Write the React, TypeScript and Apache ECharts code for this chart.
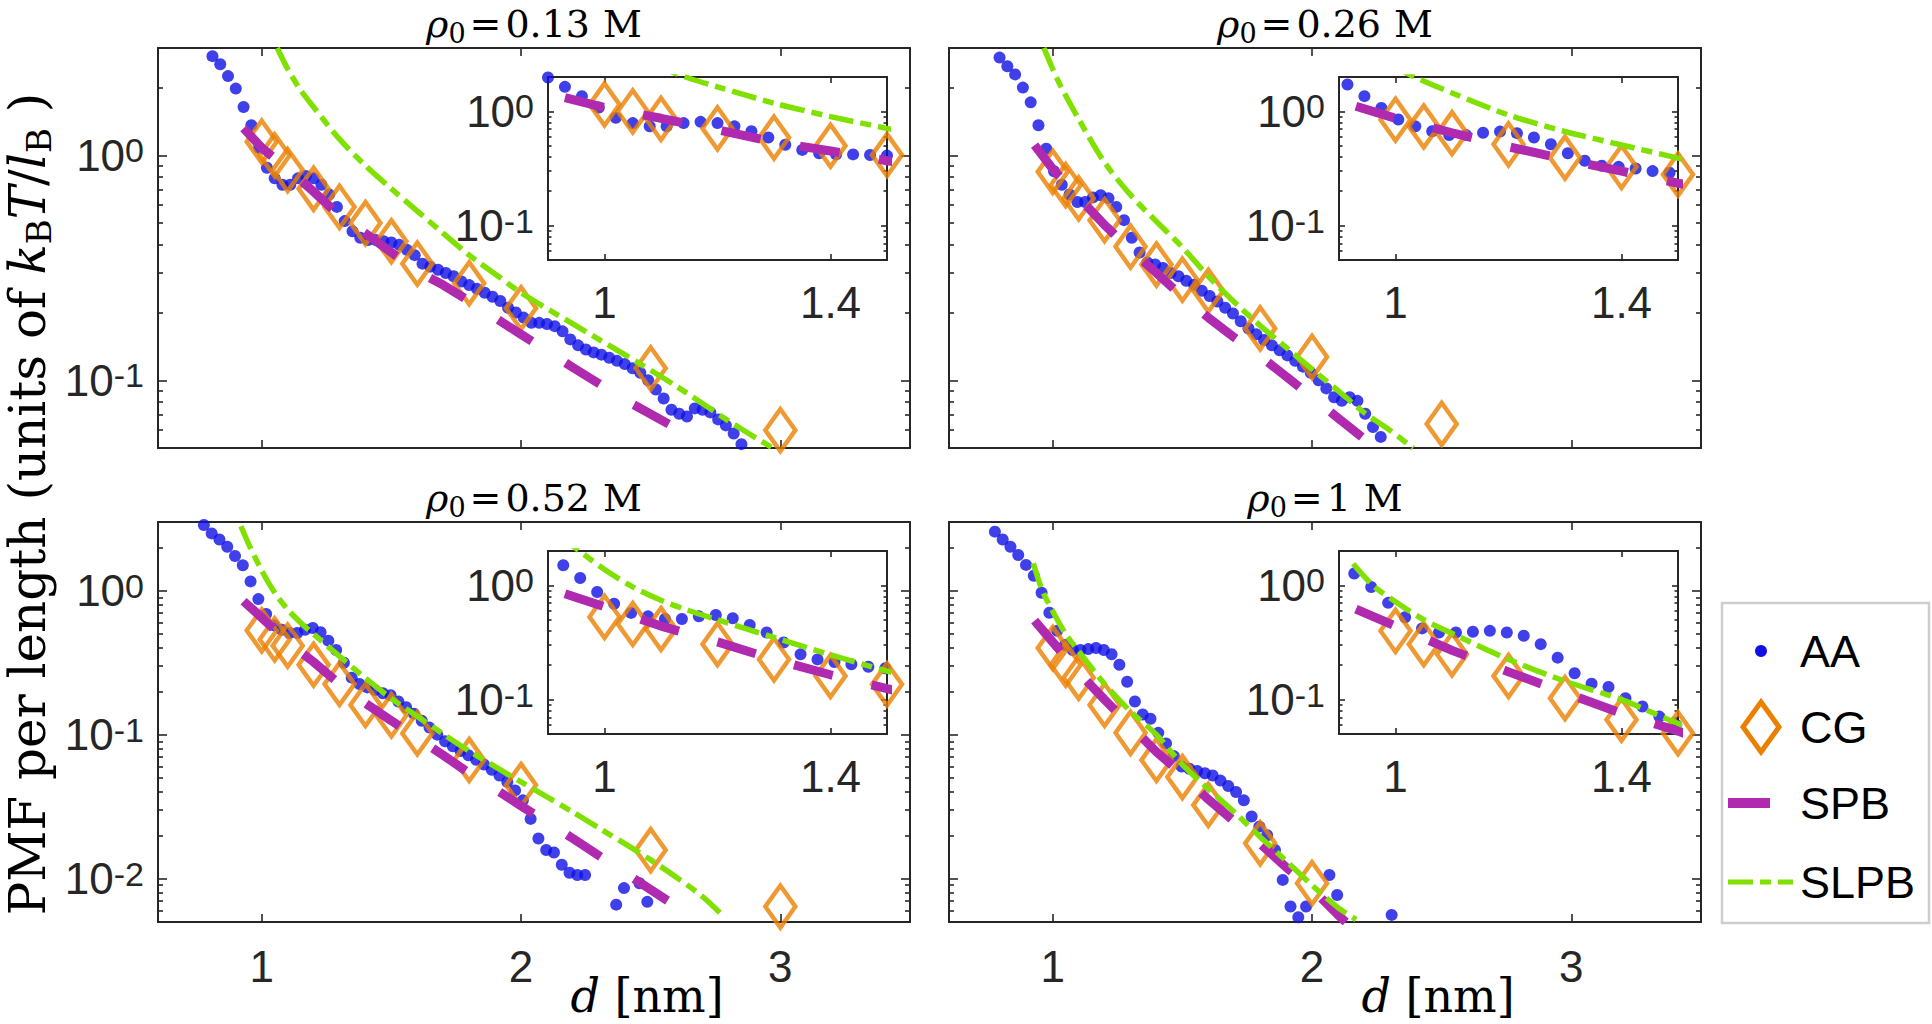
import React, { useEffect, useRef } from "react";
import * as echarts from "echarts";

// ---------------- data ----------------
// top-left, rho0 = 0.13 M
const tlAAx = [
  0.81, 0.84, 0.87, 0.9, 0.93, 0.96, 0.99, 1.02, 1.05, 1.08,
  1.11, 1.14, 1.17, 1.2, 1.23, 1.26, 1.29, 1.32, 1.35, 1.38,
  1.41, 1.44, 1.47, 1.5, 1.53, 1.56, 1.59, 1.62, 1.65, 1.68,
  1.71, 1.74, 1.77, 1.8, 1.83, 1.86, 1.89, 1.92, 1.95, 1.98,
  2.01, 2.04, 2.07, 2.1, 2.13, 2.16, 2.19, 2.22, 2.25, 2.28,
  2.31, 2.34, 2.37, 2.4, 2.43, 2.46, 2.49, 2.52, 2.55, 2.58,
  2.61, 2.64, 2.67, 2.7, 2.73, 2.76, 2.79, 2.82, 2.85, 2.88,
];
const tlAAy = [
  2.76, 2.54, 2.25, 1.98, 1.64, 1.36, 1.08, 0.88, 0.79, 0.74,
  0.74, 0.79, 0.81, 0.79, 0.74, 0.67, 0.59, 0.51, 0.46, 0.43,
  0.42, 0.42, 0.415, 0.41, 0.4, 0.38, 0.36, 0.33, 0.32, 0.31,
  0.3, 0.29, 0.275, 0.265, 0.255, 0.245, 0.235, 0.225, 0.21, 0.2,
  0.19, 0.18, 0.18, 0.178, 0.174, 0.165, 0.152, 0.143, 0.137, 0.133,
  0.13, 0.126, 0.122, 0.118, 0.113, 0.108, 0.1, 0.091, 0.083, 0.074,
  0.071, 0.069, 0.075, 0.074, 0.072, 0.067, 0.063, 0.058, 0.052, 0.047,
];
const tlCGx = [1.0, 1.05, 1.1, 1.2, 1.3, 1.4, 1.5, 1.6, 1.8, 2.0, 2.5, 3.0];
const tlCGy = [1.15, 1.0, 0.86, 0.71, 0.59, 0.5, 0.415, 0.33, 0.27, 0.209, 0.113, 0.06];
const tlSPBx = [0.93, 1.0, 1.1, 1.2, 1.3, 1.4, 1.5, 1.6, 1.7, 1.8, 2.0, 2.2, 2.4, 2.6, 2.66];
const tlSPBy = [1.32, 1.08, 0.87, 0.69, 0.54, 0.45, 0.37, 0.305, 0.265, 0.225, 0.16, 0.114, 0.082, 0.061, 0.056];
const tlSLPBx = [1.06, 1.1, 1.15, 1.2, 1.3, 1.4, 1.5, 1.6, 1.7, 1.8, 1.9, 2.0, 2.2, 2.4, 2.6, 2.8, 2.97];
const tlSLPBy = [3.0, 2.42, 1.95, 1.64, 1.18, 0.9, 0.71, 0.565, 0.45, 0.36, 0.297, 0.245, 0.178, 0.13, 0.094, 0.066, 0.05];

// top-right, rho0 = 0.26 M
const trAAx = [
  0.795, 0.825, 0.855, 0.885, 0.915, 0.945, 0.975, 1.005, 1.035, 1.065,
  1.095, 1.125, 1.155, 1.185, 1.215, 1.245, 1.275, 1.305, 1.335, 1.365,
  1.395, 1.425, 1.455, 1.485, 1.515, 1.545, 1.575, 1.605, 1.635, 1.665,
  1.695, 1.725, 1.755, 1.785, 1.815, 1.845, 1.875, 1.905, 1.935, 1.965,
  1.995, 2.025, 2.055, 2.085, 2.115, 2.145, 2.175, 2.205, 2.235, 2.265,
];
const trAAy = [
  2.72, 2.49, 2.29, 2.0, 1.72, 1.36, 1.07, 0.85, 0.74, 0.67,
  0.62, 0.62, 0.65, 0.665, 0.645, 0.59, 0.515, 0.43, 0.37, 0.334,
  0.327, 0.316, 0.3, 0.29, 0.277, 0.266, 0.25, 0.237, 0.224, 0.21,
  0.198, 0.183, 0.17, 0.16, 0.151, 0.143, 0.136, 0.129, 0.122, 0.115,
  0.108, 0.1, 0.092, 0.084, 0.081, 0.084, 0.081, 0.071, 0.062, 0.056,
];
const trCGx = [1.0, 1.05, 1.1, 1.2, 1.3, 1.4, 1.5, 1.6, 1.8, 2.0, 2.5];
const trCGy = [0.845, 0.737, 0.644, 0.515, 0.393, 0.327, 0.28, 0.25, 0.17, 0.127, 0.064];
const trSPBx = [0.93, 1.0, 1.1, 1.2, 1.3, 1.4, 1.5, 1.6, 1.7, 1.8, 1.9, 2.0, 2.1, 2.2, 2.25];
const trSPBy = [1.11, 0.87, 0.65, 0.49, 0.38, 0.3, 0.235, 0.19, 0.155, 0.128, 0.104, 0.084, 0.068, 0.055, 0.05];
const trSLPBx = [0.966, 1.0, 1.03, 1.1, 1.2, 1.3, 1.4, 1.5, 1.6, 1.7, 1.8, 1.9, 2.0, 2.1, 2.2, 2.3, 2.39];
const trSLPBy = [3.0, 2.42, 2.04, 1.45, 0.93, 0.667, 0.508, 0.39, 0.29, 0.223, 0.175, 0.14, 0.112, 0.09, 0.072, 0.06, 0.05];

// bottom-left, rho0 = 0.52 M
const blAAx = [
  0.777, 0.807, 0.837, 0.867, 0.897, 0.927, 0.957, 0.987, 1.017, 1.047,
  1.077, 1.107, 1.137, 1.167, 1.197, 1.227, 1.257, 1.287, 1.317, 1.347,
  1.377, 1.407, 1.437, 1.467, 1.497, 1.527, 1.557, 1.587, 1.617, 1.647,
  1.677, 1.707, 1.737, 1.767, 1.797, 1.827, 1.857, 1.887, 1.917, 1.947,
  1.977, 2.007, 2.037, 2.067, 2.097, 2.127, 2.157, 2.187, 2.217, 2.247,
  2.277, 2.307, 2.337, 2.367, 2.397, 2.427, 2.457, 2.487,
];
const blAAy = [
  2.86, 2.5, 2.27, 2.02, 1.74, 1.5, 1.16, 0.874, 0.69, 0.574,
  0.536, 0.508, 0.508, 0.536, 0.551, 0.515, 0.45, 0.387, 0.316, 0.249,
  0.225, 0.213, 0.204, 0.194, 0.188, 0.17, 0.155, 0.14, 0.125, 0.112,
  0.1, 0.09, 0.083, 0.077, 0.072, 0.067, 0.062, 0.057, 0.052, 0.047,
  0.041, 0.035, 0.026, 0.019, 0.0158, 0.0152, 0.0125, 0.011, 0.0106, 0.0106,
  null, null, null, 0.0066, 0.0086, null, 0.0093, 0.0069,
];
const blCGx = [1.0, 1.05, 1.1, 1.2, 1.3, 1.4, 1.5, 1.6, 1.8, 2.0, 2.5, 3.0];
const blCGy = [0.53, 0.459, 0.415, 0.306, 0.225, 0.161, 0.136, 0.102, 0.0667, 0.0447, 0.0158, 0.0064];
const blSPBx = [0.93, 1.0, 1.1, 1.2, 1.3, 1.4, 1.5, 1.6, 1.7, 1.8, 1.9, 2.0, 2.2, 2.4, 2.6, 2.66];
const blSPBy = [0.845, 0.65, 0.44, 0.32, 0.225, 0.165, 0.125, 0.095, 0.072, 0.054, 0.042, 0.032, 0.019, 0.011, 0.0064, 0.0054];
const blSLPBx = [0.92, 0.95, 1.0, 1.05, 1.1, 1.15, 1.2, 1.3, 1.4, 1.5, 1.6, 1.7, 1.8, 1.9, 2.0, 2.1, 2.2, 2.3, 2.4, 2.5, 2.6, 2.7, 2.78];
const blSLPBy = [2.8, 2.1, 1.38, 0.97, 0.74, 0.6, 0.5, 0.35, 0.247, 0.178, 0.134, 0.101, 0.077, 0.06, 0.047, 0.037, 0.029, 0.0225, 0.0175, 0.0135, 0.0102, 0.0075, 0.0055];

// bottom-right, rho0 = 1 M
const brAAx = [
  0.777, 0.807, 0.837, 0.867, 0.897, 0.927, 0.957, 0.987, 1.017, 1.047,
  1.077, 1.107, 1.137, 1.167, 1.197, 1.227, 1.257, 1.287, 1.317, 1.347,
  1.377, 1.407, 1.437, 1.467, 1.497, 1.527, 1.557, 1.587, 1.617, 1.647,
  1.677, 1.707, 1.737, 1.767, 1.797, 1.827, 1.857, 1.887, 1.917, 1.947,
  1.977, 2.007, 2.037, 2.067, 2.097, 2.127, 2.157, 2.187, 2.217, 2.247,
  2.277, 2.307,
];
const brAAy = [
  2.57, 2.27, 2.02, 1.77, 1.51, 1.27, 0.967, 0.703, 0.526, 0.42,
  0.387, 0.387, 0.393, 0.4, 0.387, 0.362, 0.306, 0.233, 0.17, 0.138,
  0.129, 0.103, 0.087, 0.071, 0.06, 0.058, 0.056, 0.054, 0.052, 0.048,
  0.044, 0.04, 0.035, 0.027, 0.023, 0.02, 0.0158, 0.0098, 0.0064, 0.0054,
  0.0064, null, null, 0.0106, 0.0077, null, null, null, null, null,
  null, 0.0056,
];
const brCGx = [1.0, 1.05, 1.1, 1.2, 1.3, 1.4, 1.5, 1.6, 1.8, 2.0];
const brCGy = [0.4, 0.306, 0.249, 0.161, 0.103, 0.0667, 0.0508, 0.0325, 0.0176, 0.0093];
const brSPBx = [0.93, 1.0, 1.1, 1.2, 1.3, 1.4, 1.5, 1.6, 1.7, 1.8, 1.9, 2.0, 2.1, 2.13];
const brSPBy = [0.62, 0.44, 0.27, 0.175, 0.115, 0.076, 0.053, 0.0355, 0.025, 0.0175, 0.012, 0.0085, 0.0056, 0.005];
const brSLPBx = [0.925, 0.96, 1.0, 1.05, 1.1, 1.2, 1.3, 1.4, 1.5, 1.6, 1.7, 1.8, 1.9, 2.0, 2.1, 2.17];
const brSLPBy = [1.55, 1.0, 0.72, 0.5, 0.38, 0.225, 0.145, 0.1, 0.062, 0.042, 0.029, 0.0195, 0.0133, 0.009, 0.0063, 0.0052];

// ---------------- axes / ticks ----------------
const seriesNames = ["AA", "CG", "SPB", "SLPB"];
const concentrations = ["0.13", "0.26", "0.52", "1"];
const mainXRange = [0.6, 3.5];
const insetXRange = [0.9, 1.5];
const mainXTicks = [1, 2, 3];
const insetXTicks = [1, 1.4];
const topYRange = [0.05, 3];
const botYRange = [0.005, 3];
const insetYRange = [0.05, 2];
const topYMajor = [0.1, 1];
const topYMinor = [0.05, 0.06, 0.07, 0.08, 0.09, 0.2, 0.3, 0.4, 0.5, 0.6, 0.7, 0.8, 0.9, 2, 3];
const botYMajor = [0.01, 0.1, 1];
const botYMinor = [
  0.005, 0.006, 0.007, 0.008, 0.009, 0.02, 0.03, 0.04, 0.05, 0.06, 0.07, 0.08, 0.09,
  0.2, 0.3, 0.4, 0.5, 0.6, 0.7, 0.8, 0.9, 2, 3,
];
const insetYMajor = [0.1, 1];
const insetYMinor = [0.05, 0.06, 0.07, 0.08, 0.09, 0.2, 0.3, 0.4, 0.5, 0.6, 0.7, 0.8, 0.9, 2];

// ---------------- style ----------------
const SANS = "'Liberation Sans', Arial, Helvetica, sans-serif";
const SERIF = "'DejaVu Serif', 'Liberation Serif', serif";
const AX = "#262626";
const BLUE = "#1010E6";
const ORANGE = "#EB8000";
const MAGENTA = "#B02AB0";
const GREEN = "#80E000";
const W = 1932;
const H = 1024;
const MAIN_W = 752;
const MAIN_H = 400;
const INSET_W = 339;
const INSET_H = 183;

type Pts = (number | null)[];

function zip(xs: number[], ys: Pts): number[][] {
  const out: number[][] = [];
  xs.forEach((x, i) => {
    const y = ys[i];
    if (y !== null && y !== undefined) out.push([x, y as number]);
  });
  return out;
}
function inRange(pts: number[][], xr: number[], yr: number[]) {
  const e = 1e-6;
  return pts.filter(
    ([x, y]) => x >= xr[0] - e && x <= xr[1] + e && y >= yr[0] * (1 - e) && y <= yr[1] * (1 + e)
  );
}
function powLabel(v: number) {
  const e = Math.round(Math.log10(v));
  return `{b|10}{s|${e}}`;
}
const supRich = {
  b: { fontSize: 44, fontFamily: SANS, color: AX, lineHeight: 44, padding: [15, 0, 0, 0], verticalAlign: "bottom" },
  s: { fontSize: 34, fontFamily: SANS, color: AX, lineHeight: 34, verticalAlign: "top" },
};

function buildOption() {
  const grid: any[] = [];
  const xAxis: any[] = [];
  const yAxis: any[] = [];
  const series: any[] = [];
  const elements: any[] = [];

  const addGrid = (left: number, top: number, w: number, h: number, cfg: any) => {
    const gi = grid.length;
    grid.push({ left, top, width: w, height: h, show: false, containLabel: false, outerBoundsMode: "none" });
    const lineOn = { show: true, onZero: false, lineStyle: { color: AX, width: 2 } };
    const tickStyle = { color: AX, width: 1.6 };
    const xi = xAxis.length;
    ["bottom", "top"].forEach((pos) => {
      xAxis.push({
        type: "value",
        gridIndex: gi,
        position: pos,
        min: cfg.xr[0],
        max: cfg.xr[1],
        axisLine: lineOn,
        axisTick: { show: true, inside: true, length: cfg.xLen, customValues: cfg.xTicks, lineStyle: tickStyle },
        axisLabel: {
          show: pos === "bottom" && cfg.xLabels,
          customValues: cfg.xTicks,
          margin: cfg.xMargin,
          color: AX,
          fontSize: 44,
          fontFamily: SANS,
          formatter: (v: number) => String(v),
        },
        splitLine: { show: false },
      });
    });
    const yi = yAxis.length;
    ["left", "right"].forEach((pos) => {
      yAxis.push({
        type: "log",
        logBase: 10,
        gridIndex: gi,
        position: pos,
        min: cfg.yr[0],
        max: cfg.yr[1],
        axisLine: lineOn,
        axisTick: { show: true, inside: true, length: cfg.majLen, customValues: cfg.yMajor, lineStyle: tickStyle },
        axisLabel: {
          show: pos === "left" && cfg.yLabels,
          customValues: cfg.yMajor,
          margin: 14,
          formatter: powLabel,
          rich: supRich,
        },
        splitLine: { show: false },
      });
      yAxis.push({
        type: "log",
        logBase: 10,
        gridIndex: gi,
        position: pos,
        min: cfg.yr[0],
        max: cfg.yr[1],
        axisLine: { show: false },
        axisTick: { show: true, inside: true, length: cfg.minLen, customValues: cfg.yMinor, lineStyle: tickStyle },
        axisLabel: { show: false },
        splitLine: { show: false },
      });
    });
    return { xi, yi };
  };

  const addSeries = (ax: any, d: any, xr: number[], yr: number[]) => {
    const common = { xAxisIndex: ax.xi, yAxisIndex: ax.yi, silent: true, animation: false };
    series.push({
      ...common,
      type: "scatter",
      name: seriesNames[0],
      data: inRange(zip(d.aa[0], d.aa[1]), xr, yr),
      symbol: "circle",
      symbolSize: 12,
      itemStyle: { color: BLUE },
      clip: false,
      z: 2,
    });
    series.push({
      ...common,
      type: "scatter",
      name: seriesNames[1],
      data: inRange(zip(d.cg[0], d.cg[1]), xr, yr),
      symbol: "diamond",
      symbolSize: [30, 42],
      itemStyle: { color: "rgba(0,0,0,0)", borderColor: ORANGE, borderWidth: 4.6 },
      clip: false,
      z: 3,
    });
    series.push({
      ...common,
      type: "line",
      name: seriesNames[2],
      data: zip(d.spb[0], d.spb[1]),
      symbol: "none",
      showSymbol: false,
      lineStyle: { color: MAGENTA, width: 9, type: [40, 40], cap: "butt" },
      clip: true,
      z: 4,
    });
    series.push({
      ...common,
      type: "line",
      name: seriesNames[3],
      data: zip(d.slpb[0], d.slpb[1]),
      symbol: "none",
      showSymbol: false,
      smooth: 0.3,
      lineStyle: { color: GREEN, width: 5.5, type: [25, 7, 11, 7], cap: "butt" },
      clip: true,
      z: 5,
    });
  };

  const panels = [
    { left: 158, top: 48, ins: [548, 77], yr: topYRange, maj: topYMajor, min: topYMinor, yl: true, xl: false,
      d: { aa: [tlAAx, tlAAy], cg: [tlCGx, tlCGy], spb: [tlSPBx, tlSPBy], slpb: [tlSLPBx, tlSLPBy] } },
    { left: 949, top: 48, ins: [1339, 77], yr: topYRange, maj: topYMajor, min: topYMinor, yl: false, xl: false,
      d: { aa: [trAAx, trAAy], cg: [trCGx, trCGy], spb: [trSPBx, trSPBy], slpb: [trSLPBx, trSLPBy] } },
    { left: 158, top: 522, ins: [548, 551], yr: botYRange, maj: botYMajor, min: botYMinor, yl: true, xl: true,
      d: { aa: [blAAx, blAAy], cg: [blCGx, blCGy], spb: [blSPBx, blSPBy], slpb: [blSLPBx, blSLPBy] } },
    { left: 949, top: 522, ins: [1339, 551], yr: botYRange, maj: botYMajor, min: botYMinor, yl: false, xl: true,
      d: { aa: [brAAx, brAAy], cg: [brCGx, brCGy], spb: [brSPBx, brSPBy], slpb: [brSLPBx, brSLPBy] } },
  ];

  const titleRich = {
    r: { fontSize: 38, fontFamily: SERIF, fontStyle: "italic", fill: "#000", lineHeight: 46, verticalAlign: "middle" },
    s: { fontSize: 27, fontFamily: SERIF, fill: "#000", lineHeight: 27, verticalAlign: "bottom" },
    e: { fontSize: 38, fontFamily: SERIF, fill: "#000", lineHeight: 46, padding: [0, 4, 0, 4] },
    n: { fontSize: 38, fontFamily: SERIF, fill: "#000", lineHeight: 46 },
    m: { fontSize: 38, fontFamily: SERIF, fill: "#000", lineHeight: 46, padding: [0, 0, 0, 13] },
  };

  panels.forEach((p, k) => {
    const mainAx = addGrid(p.left, p.top, MAIN_W, MAIN_H, {
      xr: mainXRange, yr: p.yr, xTicks: mainXTicks, yMajor: p.maj, yMinor: p.min,
      xLabels: p.xl, yLabels: p.yl, xLen: 8, majLen: 9, minLen: 5, xMargin: 22,
    });
    addSeries(mainAx, p.d, mainXRange, p.yr);
    const insAx = addGrid(p.ins[0], p.ins[1], INSET_W, INSET_H, {
      xr: insetXRange, yr: insetYRange, xTicks: insetXTicks, yMajor: insetYMajor, yMinor: insetYMinor,
      xLabels: true, yLabels: true, xLen: 6, majLen: 6, minLen: 3.5, xMargin: 20,
    });
    addSeries(insAx, p.d, insetXRange, insetYRange);

    elements.push({
      type: "text",
      x: p.left + MAIN_W / 2,
      y: p.top - 24,
      silent: true,
      style: {
        text: `{r|ρ}{s|0}{e|=}{n|${concentrations[k]}}{m|M}`,
        rich: titleRich,
        fill: "#000",
        align: "center",
        verticalAlign: "middle",
      },
    });
    if (p.xl) {
      elements.push({
        type: "text",
        x: p.left + 489,
        y: 996,
        silent: true,
        style: {
          text: "{i|d}{n| [nm]}",
          rich: {
            i: { fontSize: 46, fontFamily: SERIF, fontStyle: "italic", fill: "#000" },
            n: { fontSize: 46, fontFamily: SERIF, fill: "#000" },
          },
          fill: "#000",
          align: "center",
          verticalAlign: "middle",
        },
      });
    }
  });

  // shared y label
  elements.push({
    type: "text",
    x: 28,
    y: 504,
    rotation: Math.PI / 2,
    silent: true,
    style: {
      text: "{n|PMF per length (units of }{i|k}{b|B}{i|T}{n|/}{i|l}{b|B}{n| )}",
      rich: {
        n: { fontSize: 50, fontFamily: SERIF, fill: "#000", lineHeight: 56 },
        i: { fontSize: 50, fontFamily: SERIF, fontStyle: "italic", fill: "#000", lineHeight: 56 },
        b: { fontSize: 34, fontFamily: SERIF, fill: "#000", lineHeight: 34, verticalAlign: "bottom" },
      },
      fill: "#000",
      align: "center",
      verticalAlign: "middle",
    },
  });

  // legend
  const LX = 1722, LY = 603;
  elements.push({
    type: "rect",
    silent: true,
    shape: { x: LX, y: LY, width: 207, height: 320 },
    style: { fill: "#fff", stroke: "#CDCDCD", lineWidth: 2.5 },
  });
  elements.push({ type: "circle", silent: true, shape: { cx: 1761, cy: 651, r: 6 }, style: { fill: BLUE } });
  elements.push({
    type: "polygon",
    silent: true,
    shape: { points: [[1761, 702], [1779, 727], [1761, 752], [1743, 727]] },
    style: { fill: "none", stroke: ORANGE, lineWidth: 5 },
  });
  elements.push({
    type: "line",
    silent: true,
    shape: { x1: 1728, y1: 803, x2: 1770, y2: 803 },
    style: { stroke: MAGENTA, lineWidth: 10 },
  });
  elements.push({
    type: "line",
    silent: true,
    shape: { x1: 1728, y1: 882, x2: 1793, y2: 882 },
    style: { stroke: GREEN, lineWidth: 5, lineDash: [25, 7, 11, 7] },
  });
  [651, 727, 803, 882].forEach((yy, i) => {
    elements.push({
      type: "text",
      x: 1800,
      y: yy,
      silent: true,
      style: {
        text: seriesNames[i],
        fill: "#000",
        fontSize: 45,
        fontFamily: SANS,
        align: "left",
        verticalAlign: "middle",
      },
    });
  });

  return {
    animation: false,
    backgroundColor: "#ffffff",
    grid,
    xAxis,
    yAxis,
    series,
    graphic: { elements },
  };
}

export default function App() {
  const ref = useRef<HTMLDivElement>(null);
  useEffect(() => {
    if (!ref.current) return;
    const chart = echarts.init(ref.current, null, { renderer: "svg", width: W, height: H });
    chart.setOption(buildOption() as any);
    return () => {
      chart.dispose();
    };
  }, []);
  return (
    <div
      ref={ref}
      style={{ position: "absolute", left: 0, top: 0, width: W, height: H, background: "#fff" }}
    />
  );
}
